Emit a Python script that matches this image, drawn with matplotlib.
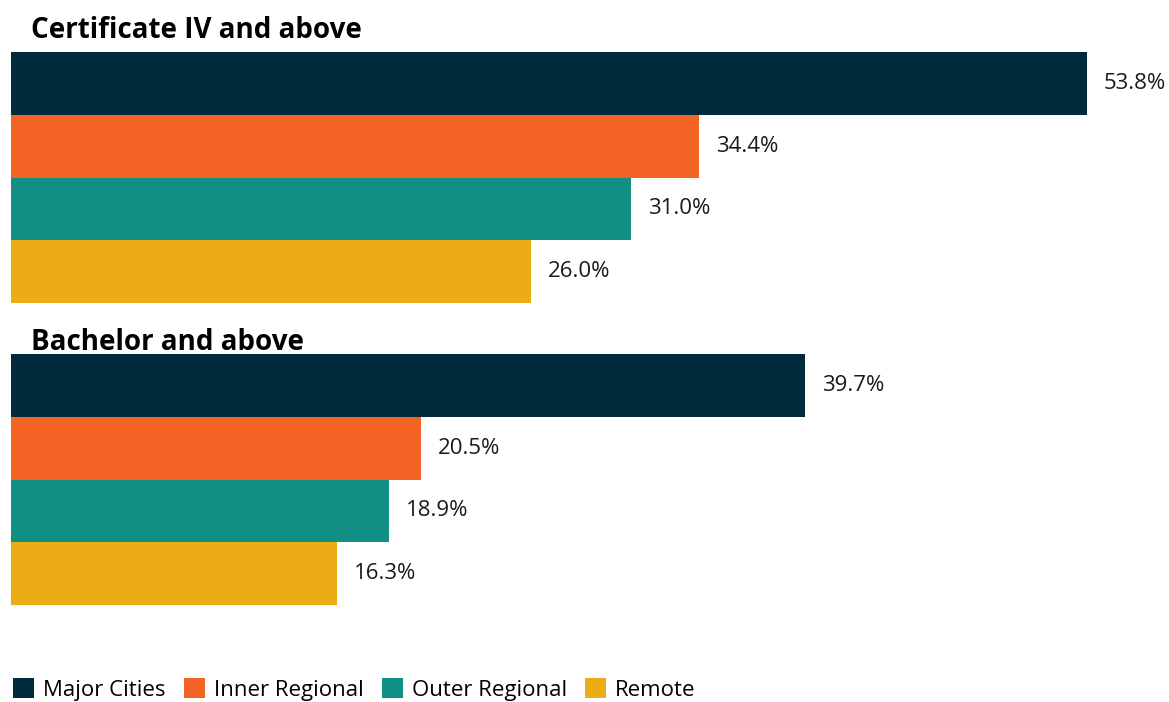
import matplotlib
matplotlib.use("Agg")
import matplotlib.pyplot as plt
from matplotlib.patches import Patch

plt.rcParams["font.family"] = ["Open Sans", "DejaVu Sans"]

regions = ["Major Cities", "Inner Regional", "Outer Regional", "Remote"]
colors = ["#022a3d", "#f26324", "#118f84", "#ecac16"]
groups = ["Certificate IV and above", "Bachelor and above"]
cert_iv = [53.8, 34.4, 31.0, 26.0]
bachelor = [39.7, 20.5, 18.9, 16.3]
values = [cert_iv, bachelor]

W, H = 1169, 702
fig = plt.figure(figsize=(W / 100, H / 100), dpi=100)

x_left = 11
px_per_unit = 20.0
xmax = (W - x_left) / px_per_unit

panels = [(52, 303), (354, 605)]   # pixel top/bottom of each bar block
title_y = [30, 343]

for vals, title, (top, bot), ty in zip(values, groups, panels, title_y):
    ax = fig.add_axes([x_left / W, 1 - bot / H, 1 - x_left / W, (bot - top) / H])
    ypos = list(range(len(vals)))
    ax.barh(ypos, vals, height=1.0, color=colors, edgecolor="none")
    ax.set_xlim(0, xmax)
    ax.set_ylim(len(vals) - 0.5, -0.5)
    ax.axis("off")
    for y, v in zip(ypos, vals):
        ax.annotate(f"{v:.1f}%", xy=(v, y), xytext=(12, 0), textcoords="offset points",
                    va="center", ha="left", fontsize=16, color="#1a1a1a")
    fig.text(31 / W, 1 - ty / H, title, fontsize=20, fontweight="bold",
             va="center", ha="left", color="black")

handles = [Patch(facecolor=c, edgecolor="none") for c in colors]
fig.legend(handles, regions, loc="lower left", bbox_to_anchor=(13 / W, 1 / H),
           ncol=4, frameon=False, fontsize=16, handlelength=0.95, handleheight=1.0,
           handletextpad=0.4, columnspacing=0.82, borderpad=0.0, borderaxespad=0.0)

fig.savefig("out.png", dpi=100)
